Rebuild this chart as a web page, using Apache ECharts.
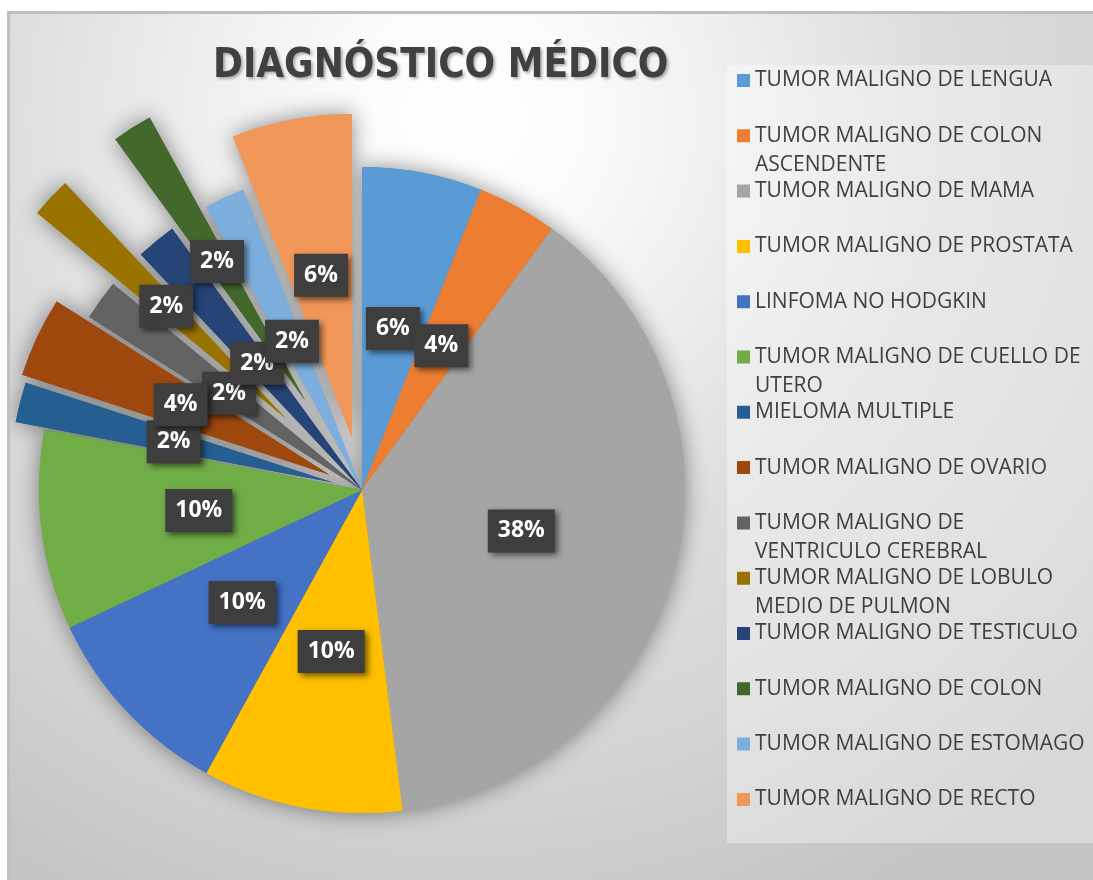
<!DOCTYPE html>
<html>
<head>
<meta charset="utf-8">
<script src="https://cdn.jsdelivr.net/npm/echarts@6/dist/echarts.min.js"></script>
<style>
  html, body { margin: 0; padding: 0; background: #fff; }
  #chart {
    position: absolute;
    left: 7px;
    top: 11px;
    width: 1083px;
    height: 866px;
    border-top: 3px solid #bfbfbf;
    border-left: 3px solid #bfbfbf;
  }
</style>
</head>
<body>
<div id="chart"></div>
<script>
const categories = [
  'TUMOR MALIGNO DE LENGUA',
  'TUMOR MALIGNO DE COLON ASCENDENTE',
  'TUMOR MALIGNO DE MAMA',
  'TUMOR MALIGNO DE PROSTATA',
  'LINFOMA NO HODGKIN',
  'TUMOR MALIGNO DE CUELLO DE UTERO',
  'MIELOMA MULTIPLE',
  'TUMOR MALIGNO DE OVARIO',
  'TUMOR MALIGNO DE VENTRICULO CEREBRAL',
  'TUMOR MALIGNO DE LOBULO MEDIO DE PULMON',
  'TUMOR MALIGNO DE TESTICULO',
  'TUMOR MALIGNO DE COLON',
  'TUMOR MALIGNO DE ESTOMAGO',
  'TUMOR MALIGNO DE RECTO'
]
const values = [3, 2, 19, 5, 5, 5, 1, 2, 1, 1, 1, 1, 1, 3]

const colors = [
  '#5B9BD5', '#ED7D31', '#A5A5A5', '#FFC000', '#4472C4', '#70AD47', '#255E91',
  '#9E480E', '#636363', '#997300', '#264478', '#43682B', '#7CAFDD', '#F1975A'
]
// how far each slice is pulled out of the pie (px)
const explode = [0, 0, 0, 0, 0, 0, 30, 36, 0, 104, 0, 106, 0, 54]

const FONT = "'Open Sans', 'DejaVu Sans', sans-serif"

// wrap legend names greedily at 26 characters, always two lines tall
function wrapName (name) {
  const words = name.split(' ')
  const lines = ['']
  words.forEach(w => {
    const cur = lines[lines.length - 1]
    const next = cur ? cur + ' ' + w : w
    if (next.length > 26 && cur) lines.push(w)
    else lines[lines.length - 1] = next
  })
  if (lines.length < 2) lines.push(' ')
  return lines.join('\n')
}

const groups = explode.filter((v, i, a) => a.indexOf(v) === i)

const labelStyle = {
  show: true,
  position: 'inside',
  formatter: '{d}%',
  color: '#fff',
  fontFamily: FONT,
  fontWeight: 'bold',
  fontSize: 23,
  lineHeight: 27,
  backgroundColor: '#3e3e3e',
  padding: [8, 10],
  shadowBlur: 6,
  shadowColor: 'rgba(0,0,0,0.55)',
  shadowOffsetX: 3,
  shadowOffsetY: 3
}

function buildSeries (offset, shadow) {
  return {
    type: 'pie',
    center: [352, 476],
    radius: [0, 323],
    startAngle: 90,
    clockwise: true,
    selectedMode: 'multiple',
    selectedOffset: offset,
    silent: true,
    animation: false,
    avoidLabelOverlap: false,
    labelLayout: { hideOverlap: false },
    z: shadow ? 1 : 2,
    labelLine: { show: false },
    emphasis: { disabled: true },
    data: categories.map((name, i) => {
      const member = explode[i] === offset
      return {
        name,
        value: values[i],
        selected: member,
        itemStyle: member
          ? {
              color: colors[i],
              borderWidth: 0,
              shadowBlur: shadow ? 22 : 0,
              shadowColor: 'rgba(0,0,0,0.45)'
            }
          : { color: 'rgba(0,0,0,0)', borderWidth: 0 },
        label: member && !shadow ? labelStyle : { show: false }
      }
    })
  }
}

const series = []
groups.forEach(g => series.push(buildSeries(g, true)))
groups.forEach(g => series.push(buildSeries(g, false)))

const chart = echarts.init(document.getElementById('chart'))
chart.setOption({
  animation: false,
  backgroundColor: {
    type: 'radial',
    x: 0.42,
    y: 0.12,
    r: 1.0,
    colorStops: [
      { offset: 0, color: '#ffffff' },
      { offset: 0.15, color: '#fafafa' },
      { offset: 0.55, color: '#dcdcdc' },
      { offset: 0.75, color: '#d4d4d4' },
      { offset: 1, color: '#c4c4c4' }
    ]
  },
  title: {
    text: 'DIAGNÓSTICO MÉDICO',
    left: 203,
    top: 33,
    padding: 0,
    textStyle: {
      fontFamily: "'Liberation Sans Narrow', 'DejaVu Sans Condensed', 'Open Sans', sans-serif",
      fontWeight: 'bold',
      fontSize: 40,
      color: '#404040',
      textShadowColor: 'rgba(0,0,0,0.3)',
      textShadowBlur: 3,
      textShadowOffsetX: 2,
      textShadowOffsetY: 2
    }
  },
  legend: {
    orient: 'vertical',
    left: 717,
    top: 51,
    padding: [1, 60, 0, 10],
    backgroundColor: 'rgba(255,255,255,0.35)',
    itemWidth: 13,
    itemHeight: 42,
    itemGap: -2.7,
    icon: 'path://M0,0L13,0L13,13L0,13Z M0,42L13,42',
    itemStyle: { borderWidth: 0 },
    selectedMode: false,
    formatter: wrapName,
    textStyle: {
      fontFamily: FONT,
      fontSize: 21,
      lineHeight: 29,
      color: '#404040'
    },
    data: categories.map((name, i) => ({ name, itemStyle: { color: colors[i] } }))
  },
  series
})
</script>
</body>
</html>
